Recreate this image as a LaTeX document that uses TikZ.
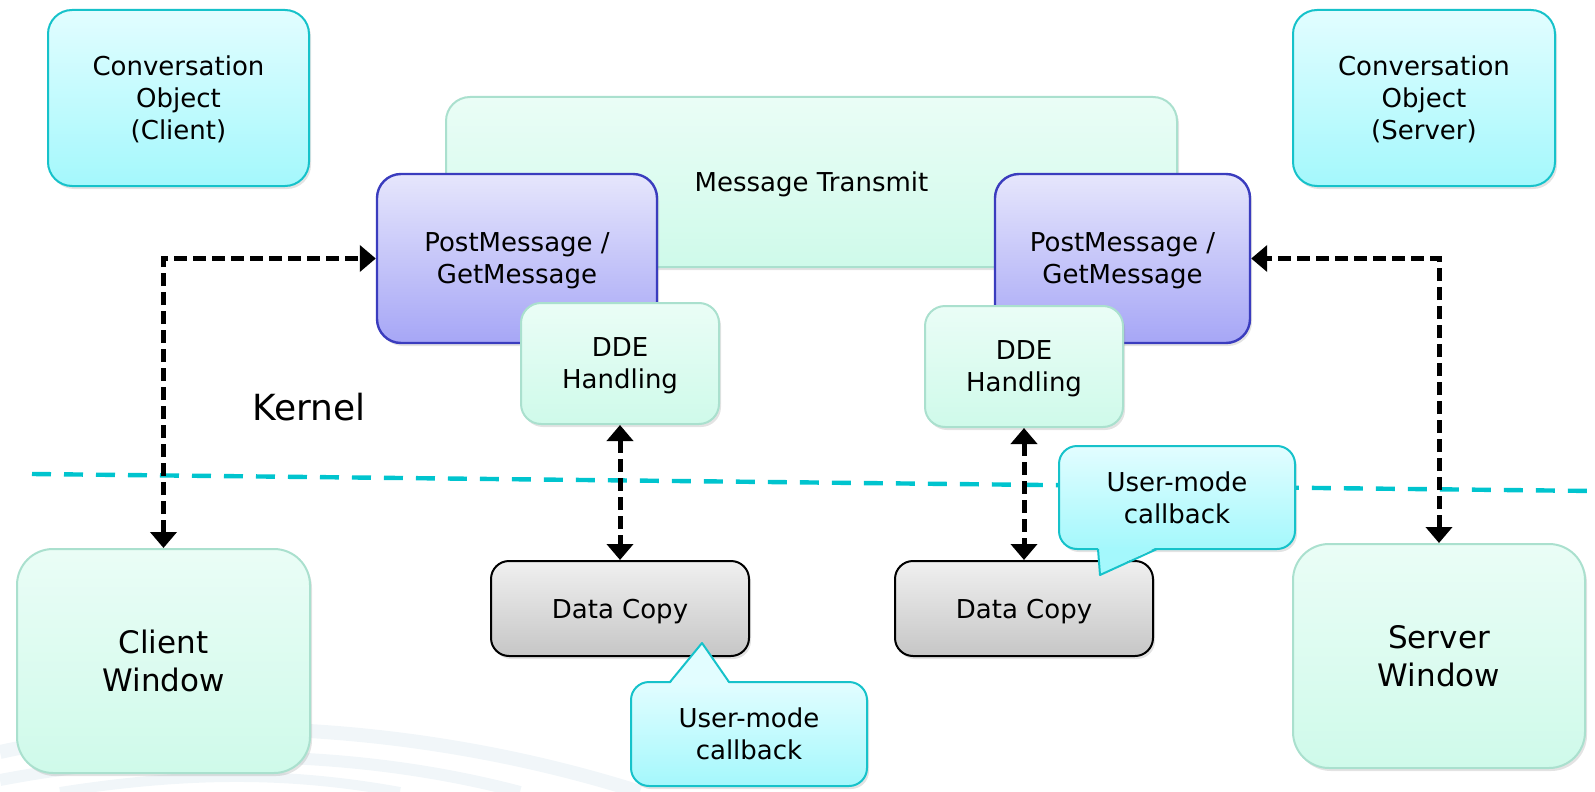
\documentclass[tikz,border=0pt]{standalone}
\usepackage{fontspec}
\setmainfont{DejaVu Sans}
\usetikzlibrary{arrows.meta,shadows}

\definecolor{cyantop}{RGB}{226,253,255}
\definecolor{cyanbot}{RGB}{164,248,252}
\definecolor{cyanline}{RGB}{22,194,202}
\definecolor{minttop}{RGB}{234,253,246}
\definecolor{mintbot}{RGB}{207,250,234}
\definecolor{mintline}{RGB}{170,224,206}
\definecolor{violettop}{RGB}{230,230,252}
\definecolor{violetbot}{RGB}{166,166,246}
\definecolor{violetline}{RGB}{58,60,190}
\definecolor{graytop}{RGB}{240,240,240}
\definecolor{graybot}{RGB}{198,198,198}
\definecolor{dashcyan}{RGB}{0,196,206}
\definecolor{swirl}{RGB}{241,246,249}

\tikzset{
  box/.style={rounded corners=12pt, draw, line width=1pt, inner sep=0pt, align=center,
    font=\fontsize{13pt}{16pt}\selectfont, text depth=0pt,
    drop shadow={opacity=0.22, shadow xshift=1pt, shadow yshift=-1.5pt}},
  conv/.style={box, top color=cyantop, bottom color=cyanbot, draw=cyanline},
  mint/.style={box, top color=minttop, bottom color=mintbot, draw=mintline},
  post/.style={box, top color=violettop, bottom color=violetbot, draw=violetline, line width=1.2pt},
  copybox/.style={box, top color=graytop, bottom color=graybot, draw=black, rounded corners=9pt},
  callbox/.style={conv, rounded corners=9pt},
  bigtext/.style={font=\fontsize{15.5pt}{19pt}\selectfont, rounded corners=18pt},
  link/.style={black, line width=2.5pt, dash pattern=on 6.5pt off 3pt,
    {Triangle[width=13pt,length=8pt]}-{Triangle[width=13pt,length=8pt]}}
}

\begin{document}
\begin{tikzpicture}[x=0.5pt, y=-0.5pt]
\useasboundingbox (0,0) rectangle (1595,792);

% faint background swirl
\begin{scope}
  \clip (0,0) rectangle (1595,792);
  \draw[swirl, line width=7pt] (0,752) .. controls (180,712) and (420,722) .. (640,792);
  \draw[swirl, line width=6pt] (0,780) .. controls (200,742) and (380,755) .. (520,792);
  \draw[swirl, line width=5pt] (60,792) .. controls (200,770) and (300,774) .. (400,792);
\end{scope}

% kernel objects
\node[mint, minimum width=365.5pt, minimum height=85pt] (msg) at (811.5,182) {Message Transmit};
\node[post, minimum width=140pt, minimum height=84.5pt] (pmc) at (517,258.5) {PostMessage /\\GetMessage};
\node[post, minimum width=127.5pt, minimum height=84.5pt] (pms) at (1122.5,258.5) {PostMessage /\\GetMessage};
\node[mint, minimum width=99pt, minimum height=60.5pt, rounded corners=10pt] (ddec) at (620,363.5) {DDE\\Handling};
\node[mint, minimum width=99pt, minimum height=60.5pt, rounded corners=10pt] (dces) at (1024,366.5) {DDE\\Handling};
\node[conv, minimum width=130.5pt, minimum height=88pt] (convc) at (178.5,98) {Conversation\\Object\\(Client)};
\node[conv, minimum width=131pt, minimum height=88pt] (convs) at (1424,98) {Conversation\\Object\\(Server)};

% user side
\node[mint, bigtext, minimum width=146.5pt, minimum height=112pt] (clw) at (163.5,661) {Client\\Window};
\node[mint, bigtext, minimum width=146pt, minimum height=112pt] (svw) at (1439,656) {Server\\Window};
\node[copybox, minimum width=129pt, minimum height=47.5pt] (cpyc) at (620,608.5) {Data Copy};
\node[copybox, minimum width=129pt, minimum height=47.5pt] (cpys) at (1024,608.5) {Data Copy};

% boundary
\draw[dashcyan, line width=2.2pt, dash pattern=on 9.5pt off 6.5pt] (32,474) -- (1595,491);
\node[font=\fontsize{18pt}{22pt}\selectfont] (kernel) at (309,407) {Kernel};

\draw[link] (clw.north) |- (pmc.west);
\draw[link] (svw.north) |- (pms.east);
\draw[link] (ddec.south) -- (cpyc.north);
\draw[link] (dces.south) -- (cpys.north);

% callouts
\node[callbox, minimum width=118pt, minimum height=52pt] (cbc) at (749,734) {User-mode\\callback};
\fill[cyantop] (670,684) -- (702,643) -- (729,684) -- cycle;
\draw[cyanline, line width=1pt, line join=round] (670,682) -- (702,643) -- (729,682);
\node[callbox, minimum width=118pt, minimum height=51.5pt] (cbs) at (1177,497.5) {User-mode\\callback};
\fill[cyanbot] (1098,547) -- (1100,575) -- (1157,547) -- cycle;
\draw[cyanline, line width=1pt, line join=round] (1098,549) -- (1100,575) -- (1157,549);
\end{tikzpicture}
\end{document}
